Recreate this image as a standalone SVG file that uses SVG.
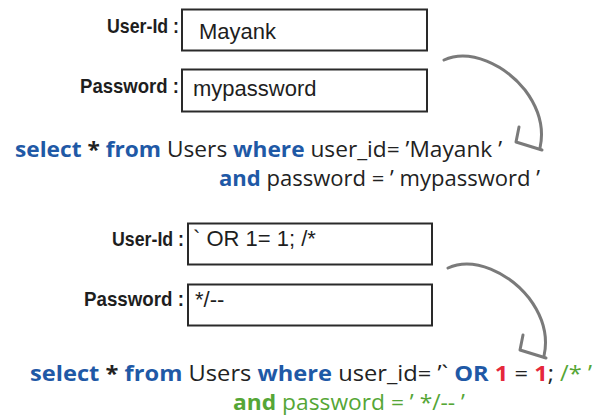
<svg xmlns="http://www.w3.org/2000/svg" width="599" height="417" viewBox="0 0 599 417">
<style>
.lbl{font-family:"Liberation Sans Narrow","Liberation Sans",Arial,sans-serif;font-weight:bold;font-size:21px;fill:#1e1e1e}
.box{fill:#fff;stroke:#2a2a2a;stroke-width:2}
.val{font-family:"Liberation Sans",Arial,sans-serif;font-size:22px;fill:#1e1e1e}
.q{font-family:"Open Sans","Noto Sans",sans-serif;font-size:21px;fill:#222}
.b{font-weight:bold}
.k{fill:#1f59a6;font-weight:bold}
.g{fill:#55a636}
.r{fill:#e5283b;font-weight:bold}
.arr{fill:none;stroke:#7a7a7a;stroke-width:3;stroke-linecap:round;stroke-linejoin:round}
</style>
<rect width="599" height="417" fill="#fff"/>
<g id="form1">
  <g id="userid1">
    <text class="lbl" x="107" y="33" textLength="72" lengthAdjust="spacingAndGlyphs">User-Id :</text>
    <rect class="box" x="182" y="9.5" width="245" height="41"/>
    <text class="val" x="199" y="39">Mayank</text>
  </g>
  <g id="password1">
    <text class="lbl" x="80" y="93" textLength="99" lengthAdjust="spacingAndGlyphs">Password :</text>
    <rect class="box" x="182" y="69.5" width="245" height="42"/>
    <text class="val" x="193" y="96">mypassword</text>
  </g>
</g>
<g id="query1">
  <text class="q" x="15" y="157" textLength="487" lengthAdjust="spacingAndGlyphs"><tspan class="k">select</tspan> <tspan class="b">*</tspan> <tspan class="k">from</tspan> Users <tspan class="k">where</tspan> user_id= ’Mayank ’</text>
  <text class="q" x="219" y="186" textLength="321" lengthAdjust="spacingAndGlyphs"><tspan class="k">and</tspan> password = ’ mypassword ’</text>
</g>
<g id="form2">
  <g id="userid2">
    <text class="lbl" x="112" y="246" textLength="72" lengthAdjust="spacingAndGlyphs">User-Id :</text>
    <rect class="box" x="188" y="223.5" width="244" height="41"/>
    <text class="val" x="193" y="246">` OR 1= 1; /*</text>
  </g>
  <g id="password2">
    <text class="lbl" x="84" y="306" textLength="100" lengthAdjust="spacingAndGlyphs">Password :</text>
    <rect class="box" x="188" y="284.5" width="244" height="41"/>
    <text class="val" x="195" y="307">*/--</text>
  </g>
</g>
<g id="query2">
  <text class="q" x="30" y="381" textLength="562" lengthAdjust="spacingAndGlyphs"><tspan class="k">select</tspan> <tspan class="b">*</tspan> <tspan class="k">from</tspan> Users <tspan class="k">where</tspan> user_id= ’` <tspan class="k">OR</tspan> <tspan class="r">1</tspan> = <tspan class="r">1</tspan>; <tspan class="g">/* ’</tspan></text>
  <text class="q g" x="233" y="410" textLength="232" lengthAdjust="spacingAndGlyphs"><tspan class="b">and</tspan> password = ’ */-- ’</text>
</g>
<g id="connectors">
  <path class="arr" d="M444,60 C470,48 505,65 525,90 C540,110 544,130 540,148"/>
  <polyline class="arr" points="519,127 516,142 542,150"/>
  <path class="arr" d="M448,268 C474,256 509,273 529,298 C544,318 548,338 544,356"/>
  <polyline class="arr" points="523,335 520,350 546,358"/>
</g>
</svg>
